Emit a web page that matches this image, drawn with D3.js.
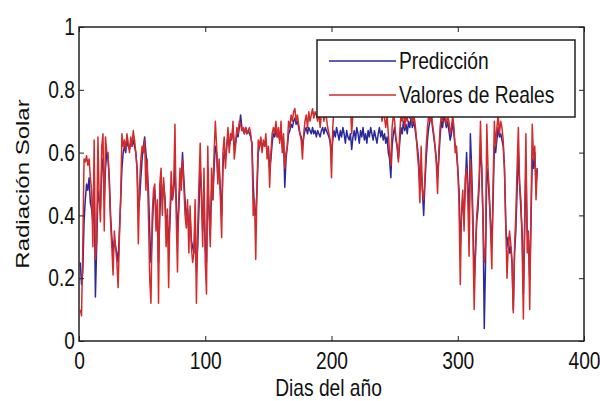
<!DOCTYPE html>
<html>
<head>
<meta charset="utf-8">
<script src="https://cdn.jsdelivr.net/npm/d3@7"></script>
<style>
  body { margin: 0; background: #fff; }
  text { font-family: "Liberation Sans", Arial, sans-serif; fill: #111; }
</style>
</head>
<body>
<div id="chart"></div>
<script>
// Valores reales de radiación solar (día 1 .. 363)
const reales = [
  0.10,0.08,0.30,0.58,0.57,0.59,0.56,0.58,0.52,0.48, 0.30,0.64,0.26,0.32,0.65,0.45,0.38,0.62,0.66,0.35,
  0.65,0.60,0.60,0.50,0.38,0.30,0.21,0.35,0.30,0.25, 0.17,0.33,0.45,0.66,0.62,0.64,0.61,0.66,0.63,0.60,
  0.65,0.62,0.67,0.64,0.60,0.55,0.31,0.50,0.58,0.62, 0.60,0.64,0.48,0.58,0.40,0.20,0.12,0.40,0.48,0.50,
  0.35,0.45,0.12,0.50,0.55,0.40,0.52,0.45,0.30,0.42, 0.17,0.40,0.54,0.45,0.50,0.69,0.40,0.22,0.45,0.55,
  0.48,0.58,0.50,0.40,0.36,0.45,0.28,0.43,0.30,0.25, 0.28,0.45,0.12,0.35,0.50,0.63,0.45,0.30,0.55,0.25,
  0.15,0.62,0.40,0.30,0.55,0.45,0.60,0.70,0.62,0.50, 0.58,0.45,0.33,0.60,0.65,0.55,0.62,0.68,0.60,0.66,
  0.64,0.70,0.58,0.62,0.68,0.66,0.70,0.69,0.67,0.68, 0.66,0.68,0.66,0.67,0.68,0.66,0.62,0.40,0.45,0.26,
  0.50,0.64,0.62,0.65,0.60,0.64,0.62,0.66,0.58,0.62, 0.49,0.60,0.66,0.68,0.66,0.70,0.65,0.68,0.63,0.70,
  0.60,0.66,0.55,0.60,0.62,0.70,0.68,0.72,0.70,0.73, 0.74,0.70,0.72,0.69,0.66,0.64,0.58,0.66,0.70,0.72,
  0.68,0.73,0.70,0.72,0.74,0.71,0.73,0.72,0.70,0.73, 0.68,0.72,0.74,0.70,0.73,0.71,0.68,0.66,0.64,0.52,
  0.68,0.74,0.73,0.74,0.76,0.73,0.75,0.74,0.74,0.77, 0.73,0.75,0.74,0.74,0.75,0.66,0.73,0.76,0.74,0.75,
  0.75,0.73,0.77,0.74,0.74,0.75,0.73,0.74,0.74,0.76, 0.73,0.75,0.74,0.74,0.73,0.73,0.75,0.74,0.74,0.70,
  0.73,0.71,0.68,0.72,0.66,0.60,0.56,0.68,0.72,0.70, 0.65,0.62,0.57,0.66,0.72,0.70,0.74,0.68,0.72,0.70,
  0.74,0.71,0.73,0.69,0.72,0.70,0.66,0.60,0.55,0.44, 0.62,0.48,0.45,0.52,0.62,0.68,0.72,0.70,0.73,0.69,
  0.66,0.62,0.57,0.47,0.60,0.68,0.72,0.70,0.74,0.71, 0.69,0.72,0.70,0.66,0.68,0.72,0.68,0.60,0.62,0.55,
  0.44,0.18,0.42,0.48,0.35,0.52,0.55,0.45,0.27,0.58, 0.50,0.35,0.10,0.27,0.40,0.45,0.52,0.70,0.55,0.38,
  0.25,0.30,0.69,0.55,0.47,0.35,0.23,0.50,0.70,0.62, 0.68,0.72,0.66,0.70,0.68,0.64,0.55,0.38,0.20,0.30,
  0.35,0.31,0.25,0.09,0.30,0.40,0.55,0.68,0.50,0.45, 0.31,0.07,0.40,0.66,0.28,0.35,0.10,0.40,0.69,0.58,
  0.62,0.45,0.55
];

// Predicción del modelo (día 1 .. 363)
const prediccion = [
  0.25,0.18,0.22,0.38,0.45,0.50,0.48,0.52,0.44,0.42, 0.38,0.50,0.14,0.30,0.48,0.45,0.42,0.55,0.58,0.45,
  0.55,0.60,0.58,0.52,0.40,0.33,0.28,0.32,0.30,0.28, 0.25,0.35,0.45,0.55,0.60,0.62,0.60,0.64,0.62,0.61,
  0.63,0.62,0.64,0.62,0.60,0.55,0.42,0.45,0.52,0.58, 0.62,0.65,0.60,0.55,0.48,0.35,0.25,0.35,0.45,0.48,
  0.40,0.42,0.25,0.40,0.50,0.45,0.50,0.46,0.38,0.40, 0.30,0.38,0.48,0.45,0.48,0.55,0.45,0.35,0.42,0.50,
  0.52,0.60,0.52,0.45,0.40,0.42,0.35,0.40,0.32,0.30, 0.28,0.38,0.22,0.30,0.42,0.55,0.48,0.35,0.45,0.30,
  0.25,0.50,0.42,0.35,0.48,0.45,0.55,0.62,0.60,0.52, 0.55,0.48,0.40,0.55,0.60,0.58,0.62,0.65,0.62,0.64,
  0.65,0.68,0.62,0.63,0.66,0.65,0.68,0.72,0.68,0.67, 0.66,0.68,0.66,0.67,0.66,0.65,0.63,0.50,0.42,0.40,
  0.48,0.60,0.62,0.64,0.62,0.63,0.62,0.64,0.60,0.61, 0.55,0.58,0.63,0.66,0.65,0.67,0.65,0.66,0.64,0.67,
  0.62,0.64,0.49,0.58,0.62,0.66,0.67,0.69,0.68,0.70, 0.71,0.69,0.70,0.68,0.66,0.65,0.62,0.65,0.67,0.68,
  0.66,0.68,0.67,0.66,0.68,0.66,0.67,0.65,0.67,0.66, 0.65,0.67,0.68,0.66,0.68,0.67,0.66,0.65,0.63,0.60,
  0.64,0.67,0.65,0.68,0.66,0.64,0.67,0.65,0.68,0.66, 0.63,0.67,0.65,0.64,0.66,0.61,0.65,0.67,0.64,0.68,
  0.66,0.63,0.67,0.65,0.68,0.64,0.66,0.63,0.67,0.65, 0.68,0.66,0.64,0.67,0.65,0.63,0.66,0.68,0.65,0.67,
  0.64,0.66,0.63,0.65,0.60,0.58,0.52,0.62,0.66,0.68, 0.64,0.62,0.58,0.63,0.68,0.66,0.70,0.67,0.69,0.66,
  0.70,0.68,0.71,0.68,0.70,0.68,0.65,0.62,0.58,0.50, 0.55,0.48,0.40,0.50,0.58,0.64,0.68,0.70,0.72,0.68,
  0.65,0.62,0.58,0.52,0.58,0.65,0.70,0.68,0.72,0.70, 0.68,0.70,0.67,0.64,0.66,0.70,0.66,0.62,0.60,0.55,
  0.48,0.30,0.40,0.45,0.40,0.50,0.60,0.50,0.38,0.66, 0.55,0.40,0.20,0.28,0.38,0.42,0.50,0.62,0.55,0.40,
  0.04,0.25,0.55,0.52,0.45,0.38,0.30,0.45,0.62,0.60, 0.64,0.68,0.65,0.66,0.64,0.62,0.55,0.38,0.30,0.33,
  0.28,0.30,0.25,0.10,0.28,0.35,0.48,0.60,0.50,0.42, 0.35,0.15,0.35,0.55,0.35,0.32,0.20,0.38,0.58,0.55,
  0.60,0.50,0.55
];

const xTicks = [0, 100, 200, 300, 400];
const yTicks = [0, 0.2, 0.4, 0.6, 0.8, 1];
const leyenda = ["Predicción", "Valores de Reales"];
const colores = ["#2a2a9c", "#d42a2a"];

const width = 600, height = 401;
const margin = {top: 27, right: 16, bottom: 60, left: 79};
const w = width - margin.left - margin.right;
const h = height - margin.top - margin.bottom;
const squeeze = 0.8; // the original text looks horizontally condensed

const svg = d3.select("#chart").append("svg")
    .attr("width", width)
    .attr("height", height);

const g = svg.append("g")
    .attr("transform", `translate(${margin.left},${margin.top})`);

const x = d3.scaleLinear().domain([0, 400]).range([0, w]);
const y = d3.scaleLinear().domain([0, 1]).range([h, 0]);

// lines (prediction first, real values on top)
const line = d3.line()
    .x((d, i) => x(i + 1))
    .y(d => y(d));

[prediccion, reales].forEach((serie, k) => {
  g.append("path")
      .datum(serie)
      .attr("fill", "none")
      .attr("stroke", colores[k])
      .attr("stroke-width", 1.5)
      .attr("stroke-linejoin", "round")
      .attr("d", line);
});

// axes, MATLAB style: ticks pointing inward on all four sides
const fmt = d => d3.format("~g")(d);
const tickLen = 5;

g.append("g")
    .attr("transform", `translate(0,${h})`)
    .call(d3.axisBottom(x).tickValues(xTicks).tickSizeInner(-tickLen).tickSizeOuter(0).tickPadding(11).tickFormat(fmt))
    .call(a => a.select(".domain").remove())
    .selectAll("text")
      .style("font-size", "24px").attr("fill", "#111")
      .attr("transform", `scale(${squeeze},1)`);

g.append("g")
    .call(d3.axisLeft(y).tickValues(yTicks).tickSizeInner(-tickLen).tickSizeOuter(0).tickPadding(5).tickFormat(fmt))
    .call(a => a.select(".domain").remove())
    .selectAll("text")
      .style("font-size", "24px").attr("fill", "#111")
      .attr("transform", `scale(${squeeze},1)`);

g.append("g")
    .call(d3.axisTop(x).tickValues(xTicks).tickSizeInner(-tickLen).tickSizeOuter(0).tickFormat(""))
    .call(a => a.select(".domain").remove());

g.append("g")
    .attr("transform", `translate(${w},0)`)
    .call(d3.axisRight(y).tickValues(yTicks).tickSizeInner(-tickLen).tickSizeOuter(0).tickFormat(""))
    .call(a => a.select(".domain").remove());

g.selectAll(".tick line").attr("stroke", "#222");

g.append("rect")
    .attr("width", w)
    .attr("height", h)
    .attr("fill", "none")
    .attr("stroke", "#222")
    .attr("stroke-width", 1.5);

// axis labels
svg.append("text")
    .attr("transform", `translate(${margin.left + w / 2 - 3},396) scale(${squeeze},1)`)
    .attr("text-anchor", "middle")
    .style("font-size", "24px")
    .text("Dias del año");

svg.append("text")
    .attr("transform", `translate(29,${margin.top + h / 2}) scale(${squeeze},1) rotate(-90)`)
    .attr("text-anchor", "middle")
    .style("font-size", "24px")
    .text("Radiación Solar");

// legend
const lg = svg.append("g").attr("transform", "translate(317,40)");
lg.append("rect")
    .attr("width", 258)
    .attr("height", 77)
    .attr("fill", "#fff")
    .attr("stroke", "#222")
    .attr("stroke-width", 1.5);

leyenda.forEach((nombre, i) => {
  const yy = 21 + i * 34;
  lg.append("line")
      .attr("x1", 12).attr("x2", 79)
      .attr("y1", yy).attr("y2", yy)
      .attr("stroke", colores[i])
      .attr("stroke-width", 1.3);
  lg.append("text")
      .attr("transform", `translate(82,${yy}) scale(${squeeze},1)`)
      .attr("dy", "0.35em")
      .style("font-size", "24px")
      .text(nombre);
});
</script>
</body>
</html>
